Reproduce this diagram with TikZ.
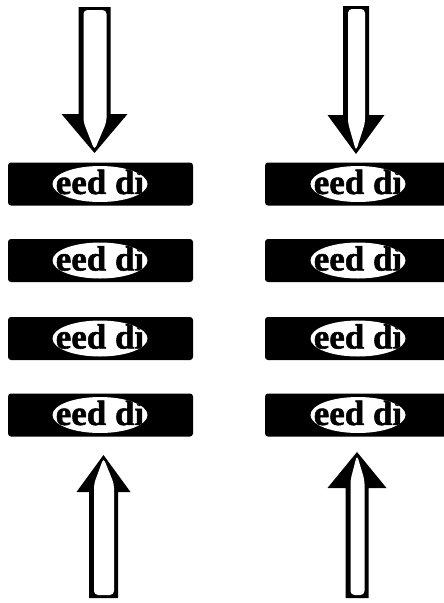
\documentclass[tikz,border=0pt]{standalone}
\usepackage{fontspec}
\setmainfont{Liberation Serif}
\newfontfamily\barfont{Liberation Serif}[BoldFeatures={FakeBold=1.5}]
\usetikzlibrary{shapes.geometric}
\tikzset{
  bar/.style={fill=black, rounded corners=3pt, minimum width=185pt, minimum height=43pt, inner sep=0pt, outer sep=0pt},
  blob/.style={ellipse, fill=white, minimum width=95pt, minimum height=36pt, inner sep=0pt,
    path picture={\node[font=\barfont\bfseries\fontsize{35}{35}\selectfont, text=black, inner sep=0pt]
      at ([xshift=0pt,yshift=2pt]path picture bounding box.center) {eed di};}},
}
% #1 cx, #2 tail, #3 tip, #4 shaft half width, #5 head half width, #6 head length
\newcommand\blockdown[6]{%
  \fill[black] (#1-#4,#2) -- (#1+#4,#2) -- (#1+#4,#3-#6) -- (#1+#5,#3-#6) -- (#1,#3)
     -- (#1-#5,#3-#6) -- (#1-#4,#3-#6) -- cycle;
  \fill[white, rounded corners=4pt] (#1-#4+5,#2+3) -- (#1+#4-4,#2+3) -- (#1+#4-4,#3-#6+8)
     -- (#1,#3-3) -- (#1-#4+5,#3-#6+8) -- cycle;}
\newcommand\blockup[6]{%
  \fill[black] (#1-#4,#2) -- (#1+#4,#2) -- (#1+#4,#3+#6) -- (#1+#5,#3+#6) -- (#1,#3)
     -- (#1-#5,#3+#6) -- (#1-#4,#3+#6) -- cycle;
  \fill[white, rounded corners=4pt] (#1-#4+5,#2-3) -- (#1+#4-4,#2-3) -- (#1+#4-4,#3+#6-8)
     -- (#1,#3+3) -- (#1-#4+5,#3+#6-8) -- cycle;}
\begin{document}
\begin{tikzpicture}[x=1pt, y=-1pt]
  \useasboundingbox[fill=white] (0,0) rectangle (444,603);
  \clip (0,0) rectangle (444,603);
  % arrows
  \blockdown{94.5}{7}{153}{16}{33}{39}
  \blockdown{356}{6}{154}{13}{28.5}{39}
  \blockup{103.5}{598}{455}{14.5}{27}{37}
  \blockup{357}{598}{452}{11.5}{29.5}{36}
  % bars
  \foreach \i/\y in {1/184, 2/260.5, 3/338.5, 4/415} {
    \node[bar] (L\i) at (100.5,\y) {};
    \node[bar] (R\i) at (357.5,\y) {};
    \node[blob] (LT\i) at (100,\y) {};
    \node[blob] (RT\i) at (358,\y) {};
  }
\end{tikzpicture}
\end{document}
